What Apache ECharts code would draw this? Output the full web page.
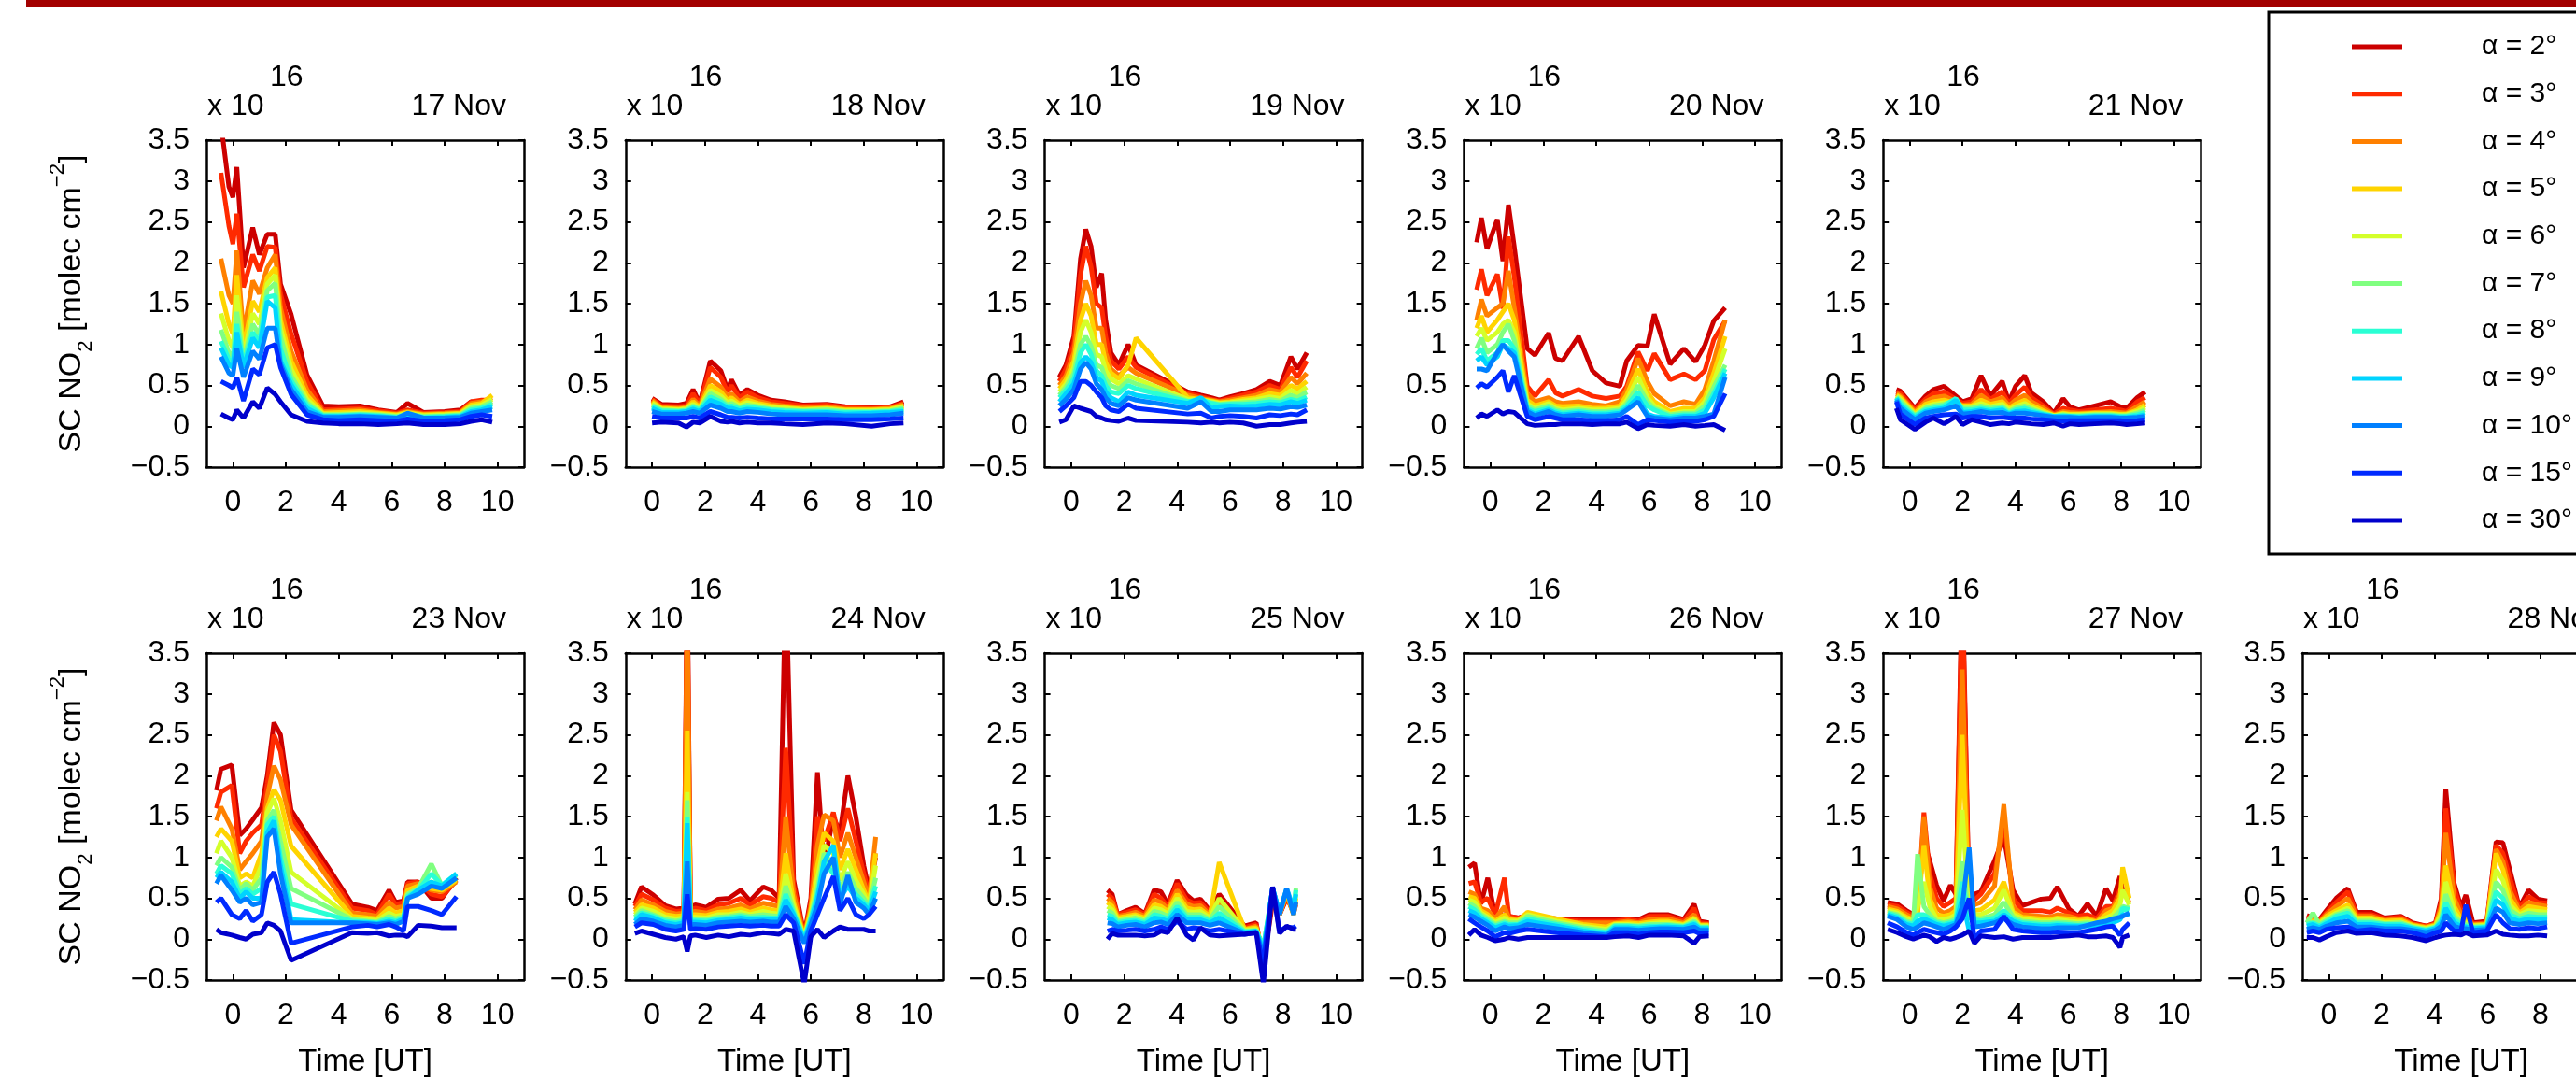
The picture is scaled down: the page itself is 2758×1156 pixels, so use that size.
<!DOCTYPE html>
<html>
<head>
<meta charset="utf-8">
<script src="https://cdn.jsdelivr.net/npm/echarts@6/dist/echarts.min.js"></script>
<style>
html,body{margin:0;padding:0;background:#fff;}
#chart{width:2758px;height:1156px;}
</style>
</head>
<body>
<div id="chart"></div>
<script>
var FONT = '"Liberation Sans", Arial, Helvetica, sans-serif';

var alphas = ['α = 2°','α = 3°','α = 4°','α = 5°','α = 6°','α = 7°','α = 8°','α = 9°','α = 10°','α = 15°','α = 30°'];
var colors = ['#cc0000','#ff2a00','#ff8000','#ffd400','#d4ff2a','#80ff80','#2affd4','#00d4ff','#0080ff','#002aff','#0000cc'];
var xTicks = [0,2,4,6,8,10];

var t17 = [-0.45,-0.15,0,0.15,0.4,0.75,1.0,1.3,1.6,1.8,2.2,2.8,3.4,4.0,4.8,5.5,6.2,6.6,7.2,8.0,8.6,9.0,9.4,9.8];
var v17 = [
 [3.7,2.93,2.8,3.17,1.94,2.43,2.1,2.35,2.35,1.74,1.37,0.63,0.25,0.24,0.25,0.2,0.17,0.28,0.17,0.18,0.2,0.3,0.28,0.3],
 [3.1,2.45,2.23,2.6,1.7,2.1,1.9,2.2,2.19,1.62,1.13,0.55,0.2,0.21,0.22,0.19,0.16,0.2,0.16,0.17,0.18,0.3,0.32,0.32],
 [2.05,1.6,1.5,2.15,1.13,1.78,1.62,1.94,2.1,1.45,0.92,0.45,0.18,0.19,0.2,0.17,0.15,0.18,0.15,0.16,0.17,0.28,0.3,0.35],
 [1.65,1.25,1.13,1.85,0.95,1.53,1.4,1.82,1.94,1.3,0.8,0.38,0.16,0.17,0.18,0.16,0.14,0.17,0.14,0.15,0.16,0.26,0.28,0.38],
 [1.38,1.05,0.96,1.6,0.85,1.38,1.25,1.74,1.85,1.2,0.7,0.33,0.15,0.15,0.16,0.15,0.13,0.16,0.13,0.14,0.15,0.24,0.26,0.33],
 [1.18,0.9,0.85,1.4,0.8,1.25,1.12,1.66,1.75,1.1,0.62,0.29,0.14,0.14,0.15,0.14,0.12,0.15,0.12,0.13,0.14,0.22,0.24,0.3],
 [1.04,0.82,0.78,1.25,0.76,1.15,1.03,1.58,1.6,0.95,0.56,0.26,0.13,0.13,0.14,0.13,0.11,0.14,0.11,0.12,0.13,0.2,0.22,0.27],
 [0.96,0.75,0.72,1.15,0.72,1.08,0.96,1.53,1.45,0.8,0.51,0.22,0.12,0.12,0.13,0.12,0.1,0.13,0.1,0.11,0.12,0.18,0.2,0.24],
 [0.85,0.65,0.62,0.95,0.6,0.92,0.82,1.2,1.2,0.76,0.45,0.18,0.11,0.11,0.12,0.11,0.1,0.16,0.1,0.1,0.11,0.16,0.18,0.2],
 [0.55,0.5,0.47,0.6,0.31,0.7,0.63,0.96,1.0,0.72,0.39,0.14,0.08,0.07,0.08,0.07,0.06,0.09,0.06,0.07,0.08,0.12,0.14,0.12],
 [0.15,0.1,0.08,0.2,0.1,0.3,0.22,0.47,0.39,0.3,0.14,0.06,0.04,0.03,0.03,0.02,0.03,0.04,0.02,0.02,0.03,0.06,0.08,0.05]
];

var t18 = [0,0.35,1.0,1.3,1.55,1.8,2.2,2.6,2.85,3.0,3.3,3.6,4.0,4.5,5.0,5.7,6.6,7.3,8.3,9.0,9.5];
var v18 = [
 [0.34,0.27,0.26,0.28,0.45,0.28,0.8,0.68,0.45,0.57,0.38,0.45,0.38,0.32,0.3,0.26,0.27,0.24,0.23,0.24,0.3],
 [0.33,0.25,0.24,0.25,0.4,0.27,0.72,0.6,0.42,0.5,0.35,0.42,0.35,0.3,0.28,0.25,0.26,0.23,0.22,0.23,0.28],
 [0.32,0.23,0.22,0.23,0.33,0.25,0.58,0.48,0.36,0.4,0.3,0.36,0.31,0.27,0.25,0.23,0.24,0.21,0.21,0.22,0.27],
 [0.3,0.22,0.21,0.22,0.3,0.23,0.5,0.42,0.32,0.35,0.27,0.32,0.28,0.25,0.23,0.21,0.22,0.2,0.2,0.21,0.25],
 [0.28,0.21,0.2,0.21,0.27,0.22,0.44,0.37,0.29,0.31,0.25,0.29,0.26,0.23,0.22,0.2,0.21,0.19,0.19,0.2,0.24],
 [0.26,0.2,0.19,0.2,0.25,0.21,0.4,0.33,0.26,0.28,0.23,0.26,0.24,0.21,0.2,0.19,0.2,0.18,0.18,0.19,0.22],
 [0.24,0.19,0.18,0.19,0.23,0.2,0.36,0.3,0.24,0.25,0.21,0.24,0.22,0.2,0.19,0.18,0.18,0.17,0.17,0.18,0.2],
 [0.22,0.17,0.17,0.18,0.21,0.18,0.32,0.27,0.22,0.22,0.19,0.21,0.2,0.18,0.17,0.16,0.17,0.15,0.16,0.17,0.18],
 [0.18,0.15,0.15,0.16,0.18,0.16,0.26,0.22,0.18,0.18,0.16,0.18,0.17,0.15,0.14,0.14,0.14,0.13,0.13,0.14,0.16],
 [0.12,0.1,0.1,0.1,0.12,0.1,0.18,0.14,0.11,0.11,0.1,0.11,0.1,0.09,0.09,0.09,0.09,0.08,0.08,0.09,0.1],
 [0.04,0.05,0.04,-0.01,0.05,0.04,0.12,0.06,0.05,0.06,0.04,0.05,0.04,0.04,0.03,0.02,0.04,0.03,0.0,0.03,0.04]
];

var t19 = [-0.45,-0.2,0.1,0.35,0.55,0.75,0.95,1.15,1.3,1.5,1.8,2.15,2.45,4.4,4.9,5.3,5.6,6.0,6.5,7.0,7.5,7.9,8.3,8.55,8.9];
var v19 = [
 [0.6,0.75,1.1,2.05,2.41,2.2,1.7,1.87,1.3,0.9,0.75,1.0,0.75,0.42,0.38,0.35,0.32,0.36,0.4,0.45,0.55,0.5,0.85,0.7,0.9],
 [0.55,0.7,1.0,1.85,2.2,1.95,1.5,1.45,1.1,0.8,0.7,0.85,0.72,0.4,0.36,0.33,0.31,0.34,0.38,0.42,0.5,0.45,0.72,0.6,0.8],
 [0.5,0.62,0.9,1.5,1.78,1.6,1.2,1.2,0.9,0.7,0.62,0.72,0.65,0.38,0.34,0.32,0.3,0.32,0.35,0.38,0.45,0.42,0.6,0.52,0.65],
 [0.46,0.57,0.8,1.3,1.5,1.35,1.0,1.0,0.78,0.65,0.58,0.75,1.08,0.35,0.33,0.31,0.29,0.3,0.33,0.35,0.4,0.38,0.5,0.46,0.55],
 [0.42,0.52,0.72,1.15,1.3,1.15,0.88,0.85,0.68,0.58,0.52,0.62,0.58,0.33,0.32,0.3,0.28,0.29,0.31,0.33,0.36,0.34,0.44,0.4,0.48],
 [0.38,0.48,0.65,1.0,1.1,0.98,0.75,0.72,0.58,0.5,0.46,0.56,0.52,0.31,0.31,0.29,0.27,0.28,0.29,0.3,0.33,0.31,0.38,0.35,0.42],
 [0.35,0.44,0.58,0.9,1.0,0.88,0.68,0.62,0.5,0.42,0.4,0.5,0.46,0.3,0.33,0.28,0.26,0.27,0.27,0.28,0.3,0.29,0.33,0.31,0.36],
 [0.3,0.4,0.52,0.78,0.85,0.78,0.6,0.55,0.42,0.35,0.3,0.42,0.38,0.28,0.35,0.22,0.24,0.25,0.24,0.25,0.27,0.26,0.3,0.28,0.32],
 [0.25,0.33,0.45,0.7,0.78,0.7,0.52,0.45,0.35,0.28,0.25,0.35,0.32,0.22,0.3,0.18,0.18,0.2,0.2,0.2,0.22,0.21,0.24,0.23,0.26],
 [0.18,0.25,0.35,0.55,0.55,0.5,0.42,0.35,0.25,0.2,0.18,0.27,0.22,0.15,0.16,0.1,0.12,0.13,0.12,0.1,0.14,0.13,0.15,0.14,0.2],
 [0.05,0.08,0.25,0.22,0.2,0.18,0.12,0.1,0.08,0.07,0.06,0.1,0.07,0.05,0.04,0.05,0.04,0.05,0.04,0.0,0.02,0.02,0.04,0.05,0.06]
];

var t20 = [-0.52,-0.34,-0.13,0.26,0.47,0.68,0.9,1.39,1.68,2.2,2.46,2.72,3.33,3.85,4.37,4.89,5.15,5.58,5.93,6.19,6.79,7.31,7.75,8.1,8.44,8.87];
var v20 = [
 [2.25,2.55,2.17,2.53,2.02,2.71,2.2,0.95,0.87,1.14,0.83,0.8,1.1,0.68,0.53,0.49,0.8,0.99,0.98,1.37,0.76,0.95,0.79,0.99,1.29,1.45],
 [1.67,1.92,1.6,1.86,1.44,2.32,1.83,0.49,0.37,0.57,0.41,0.37,0.45,0.37,0.34,0.37,0.49,0.91,0.68,0.89,0.57,0.64,0.57,0.68,1.06,1.29],
 [1.3,1.55,1.35,1.45,1.5,1.9,1.45,0.4,0.3,0.35,0.3,0.28,0.3,0.27,0.25,0.3,0.45,0.83,0.55,0.4,0.25,0.3,0.27,0.45,0.8,1.3],
 [1.2,1.35,1.15,1.3,1.4,1.5,1.3,0.32,0.25,0.3,0.25,0.24,0.25,0.22,0.22,0.25,0.38,0.7,0.42,0.3,0.18,0.22,0.22,0.35,0.65,1.1],
 [1.1,1.2,1.05,1.15,1.25,1.3,1.15,0.28,0.22,0.28,0.22,0.2,0.22,0.2,0.2,0.22,0.32,0.6,0.35,0.25,0.15,0.18,0.18,0.3,0.55,0.95],
 [0.95,1.08,0.9,1.0,1.15,1.25,1.05,0.25,0.2,0.25,0.2,0.18,0.2,0.18,0.18,0.2,0.28,0.5,0.3,0.22,0.14,0.16,0.16,0.25,0.48,0.75],
 [0.88,0.95,0.8,0.9,1.05,1.05,0.95,0.22,0.18,0.22,0.18,0.16,0.18,0.16,0.16,0.18,0.25,0.42,0.25,0.2,0.12,0.14,0.14,0.2,0.4,0.7],
 [0.8,0.85,0.75,0.85,1.0,0.95,0.9,0.2,0.15,0.2,0.16,0.14,0.16,0.14,0.14,0.16,0.22,0.35,0.15,0.12,0.1,0.12,0.12,0.16,0.35,0.65],
 [0.7,0.7,0.68,0.9,1.0,0.92,0.85,0.18,0.13,0.18,0.14,0.12,0.14,0.12,0.12,0.14,0.2,0.3,0.12,0.1,0.08,0.1,0.1,0.12,0.15,0.6],
 [0.47,0.52,0.48,0.6,0.68,0.42,0.62,0.12,0.08,0.12,0.1,0.08,0.08,0.07,0.07,0.08,0.12,0.02,0.08,0.07,0.05,0.06,0.06,0.08,0.12,0.4],
 [0.1,0.15,0.12,0.2,0.15,0.18,0.17,0.03,0.01,0.02,0.02,0.03,0.03,0.02,0.03,0.03,0.05,-0.03,0.02,0.01,0.0,0.02,0.0,0.01,0.02,-0.05]
];

var t21 = [-0.5,-0.35,0.2,0.6,0.9,1.3,1.75,2.0,2.35,2.7,3.05,3.5,3.75,4.0,4.35,4.6,5.05,5.45,5.8,6.05,6.4,7.0,7.6,7.95,8.2,8.6,8.9];
var v21 = [
 [0.45,0.43,0.22,0.37,0.45,0.49,0.37,0.3,0.34,0.62,0.37,0.55,0.3,0.49,0.62,0.41,0.3,0.16,0.34,0.24,0.2,0.25,0.3,0.24,0.22,0.35,0.42],
 [0.42,0.4,0.2,0.33,0.4,0.42,0.33,0.28,0.3,0.45,0.33,0.42,0.28,0.38,0.48,0.35,0.25,0.15,0.22,0.2,0.18,0.2,0.22,0.2,0.18,0.3,0.35],
 [0.4,0.37,0.18,0.3,0.35,0.37,0.3,0.26,0.27,0.38,0.3,0.35,0.25,0.32,0.38,0.3,0.22,0.14,0.18,0.17,0.16,0.17,0.18,0.17,0.16,0.24,0.3],
 [0.38,0.35,0.16,0.27,0.3,0.32,0.28,0.25,0.25,0.32,0.27,0.3,0.22,0.27,0.32,0.26,0.19,0.13,0.16,0.15,0.15,0.16,0.16,0.15,0.15,0.2,0.26],
 [0.37,0.33,0.14,0.24,0.27,0.29,0.3,0.23,0.24,0.28,0.24,0.27,0.2,0.24,0.28,0.23,0.17,0.13,0.15,0.14,0.14,0.15,0.15,0.14,0.14,0.18,0.23],
 [0.36,0.31,0.13,0.22,0.25,0.27,0.32,0.22,0.22,0.25,0.22,0.24,0.18,0.22,0.25,0.21,0.16,0.12,0.14,0.13,0.13,0.14,0.14,0.13,0.13,0.16,0.2],
 [0.35,0.28,0.12,0.2,0.22,0.25,0.34,0.2,0.2,0.22,0.2,0.22,0.16,0.2,0.22,0.19,0.15,0.12,0.13,0.12,0.12,0.13,0.13,0.12,0.12,0.14,0.17],
 [0.34,0.25,0.1,0.18,0.2,0.22,0.32,0.17,0.18,0.2,0.18,0.2,0.15,0.18,0.19,0.17,0.14,0.12,0.12,0.12,0.11,0.12,0.12,0.11,0.11,0.12,0.14],
 [0.32,0.22,0.08,0.16,0.18,0.2,0.25,0.15,0.16,0.18,0.16,0.17,0.14,0.16,0.16,0.15,0.13,0.11,0.11,0.11,0.1,0.11,0.11,0.1,0.1,0.11,0.12],
 [0.3,0.15,0.02,0.1,0.12,0.14,0.15,0.1,0.12,0.12,0.1,0.11,0.1,0.1,0.1,0.09,0.08,0.07,0.06,0.07,0.07,0.07,0.07,0.07,0.06,0.07,0.08],
 [0.22,0.08,-0.04,0.05,0.1,0.03,0.12,0.02,0.08,0.05,0.02,0.04,0.03,0.05,0.04,0.03,0.02,0.04,0.0,0.03,0.02,0.03,0.04,0.03,0.02,0.03,0.04]
];

var t23 = [-0.62,-0.45,-0.04,0.26,0.5,0.75,1.08,1.3,1.55,1.8,2.2,4.5,5.1,5.45,5.9,6.15,6.45,6.6,7.0,7.5,7.9,8.45];
var v23 = [
 [1.82,2.08,2.13,1.27,1.35,1.46,1.61,2.0,2.65,2.5,1.58,0.43,0.39,0.35,0.6,0.45,0.47,0.7,0.7,0.5,0.5,0.75],
 [1.6,1.8,1.88,1.05,1.2,1.3,1.4,1.9,2.5,2.3,1.48,0.38,0.35,0.3,0.55,0.42,0.45,0.68,0.7,0.55,0.52,0.72],
 [1.45,1.62,1.35,0.85,0.95,1.05,1.2,1.75,2.12,1.95,1.4,0.32,0.3,0.28,0.45,0.38,0.4,0.65,0.68,0.6,0.58,0.7],
 [1.25,1.35,1.2,0.75,0.8,0.75,1.05,1.6,1.83,1.7,1.14,0.28,0.26,0.25,0.38,0.32,0.35,0.6,0.65,0.62,0.6,0.72],
 [1.05,1.2,1.0,0.65,0.7,0.65,0.9,1.55,1.72,1.45,0.82,0.25,0.24,0.23,0.32,0.28,0.3,0.55,0.62,0.7,0.62,0.74],
 [0.9,1.0,0.88,0.6,0.68,0.6,0.75,1.45,1.58,1.2,0.62,0.24,0.22,0.21,0.28,0.25,0.28,0.55,0.62,0.92,0.65,0.78],
 [0.8,0.9,0.8,0.55,0.62,0.55,0.62,1.4,1.5,1.0,0.43,0.22,0.21,0.2,0.25,0.22,0.26,0.52,0.6,0.8,0.66,0.8],
 [0.75,0.82,0.7,0.5,0.58,0.5,0.5,1.3,1.45,0.9,0.24,0.2,0.2,0.19,0.22,0.2,0.25,0.5,0.6,0.7,0.65,0.8],
 [0.68,0.78,0.6,0.45,0.5,0.42,0.45,1.25,1.35,0.8,0.2,0.2,0.19,0.18,0.2,0.18,0.22,0.5,0.55,0.65,0.62,0.75],
 [0.45,0.5,0.3,0.25,0.35,0.22,0.3,0.7,0.82,0.55,-0.05,0.15,0.17,0.15,0.18,0.15,0.1,0.4,0.4,0.35,0.3,0.52],
 [0.12,0.08,0.05,0.02,0.0,0.06,0.08,0.2,0.17,0.1,-0.26,0.08,0.07,0.08,0.04,0.05,0.05,0.03,0.17,0.16,0.14,0.14]
];

var t24 = [-0.65,-0.4,0.05,0.5,0.9,1.2,1.33,1.45,1.63,2.05,2.5,2.9,3.35,3.7,4.2,4.5,4.8,5.05,5.35,5.75,6.0,6.25,6.5,6.85,7.1,7.4,7.7,8.0,8.2,8.45];
var v24 = [
 [0.43,0.64,0.54,0.41,0.37,0.38,4.5,0.4,0.42,0.39,0.49,0.5,0.6,0.47,0.64,0.6,0.5,4.5,0.73,0.05,0.5,2.04,0.9,1.5,1.3,2.0,1.5,0.9,0.6,1.0],
 [0.4,0.55,0.48,0.38,0.34,0.35,4.3,0.36,0.38,0.35,0.42,0.44,0.5,0.42,0.52,0.5,0.45,2.34,0.65,0.04,0.45,1.5,1.2,1.55,1.2,1.6,1.2,0.8,0.55,1.05],
 [0.36,0.48,0.42,0.34,0.31,0.32,4.0,0.33,0.34,0.32,0.37,0.38,0.42,0.37,0.44,0.42,0.4,1.5,0.55,0.03,0.4,1.15,1.52,1.45,1.0,1.3,1.0,0.7,0.5,1.25],
 [0.33,0.42,0.38,0.3,0.28,0.29,2.55,0.3,0.3,0.29,0.33,0.34,0.37,0.33,0.38,0.36,0.35,1.05,0.45,0.02,0.35,0.9,1.3,1.2,0.85,1.1,0.85,0.6,0.45,1.05],
 [0.3,0.38,0.34,0.27,0.25,0.26,1.8,0.27,0.27,0.26,0.3,0.3,0.33,0.3,0.34,0.32,0.31,0.8,0.4,0.02,0.3,0.75,1.15,1.05,0.72,0.95,0.72,0.55,0.42,0.9],
 [0.27,0.35,0.3,0.24,0.22,0.24,1.7,0.25,0.25,0.24,0.27,0.28,0.3,0.28,0.3,0.29,0.28,0.65,0.35,0.01,0.27,0.62,1.05,0.9,0.62,0.82,0.62,0.5,0.4,0.75],
 [0.25,0.32,0.28,0.22,0.2,0.22,1.5,0.23,0.23,0.22,0.25,0.26,0.28,0.26,0.27,0.26,0.26,0.55,0.32,0.0,0.25,0.55,0.95,0.8,0.55,0.72,0.55,0.45,0.38,0.65],
 [0.22,0.3,0.26,0.2,0.18,0.2,1.42,0.21,0.21,0.2,0.23,0.24,0.26,0.24,0.25,0.24,0.24,0.48,0.3,-0.02,0.22,0.5,0.95,1.15,0.5,0.65,0.5,0.42,0.35,0.58],
 [0.18,0.25,0.22,0.17,0.15,0.17,0.95,0.18,0.18,0.17,0.2,0.21,0.22,0.21,0.22,0.21,0.21,0.4,0.25,-0.05,0.18,0.42,0.8,1.0,0.42,0.78,0.45,0.38,0.3,0.5],
 [0.15,0.2,0.18,0.12,0.1,0.12,0.55,0.12,0.13,0.12,0.15,0.16,0.17,0.16,0.17,0.16,0.16,0.3,0.2,-0.3,0.1,0.3,0.5,0.77,0.35,0.5,0.3,0.25,0.3,0.4],
 [0.07,0.1,0.06,0.02,0.0,0.03,-0.15,0.04,0.05,0.02,0.05,0.03,0.06,0.05,0.08,0.07,0.06,0.12,0.1,-0.55,0.03,0.12,0.02,0.1,0.15,0.12,0.12,0.12,0.1,0.1]
];

var t25 = [1.37,1.55,1.75,2.1,2.43,2.78,3.13,3.39,3.65,4.0,4.36,4.62,4.88,5.24,5.59,6.55,6.99,7.26,7.61,7.87,8.14,8.4,8.49];
var v25 = [
 [0.6,0.55,0.3,0.35,0.39,0.31,0.6,0.58,0.43,0.72,0.54,0.47,0.49,0.35,0.55,0.16,0.2,-0.3,0.45,0.3,0.5,0.35,0.45],
 [0.55,0.5,0.3,0.33,0.36,0.3,0.55,0.5,0.4,0.68,0.48,0.44,0.45,0.33,0.48,0.14,0.18,-0.25,0.5,0.3,0.52,0.32,0.42],
 [0.5,0.45,0.28,0.3,0.33,0.28,0.48,0.45,0.37,0.6,0.43,0.4,0.41,0.3,0.42,0.12,0.16,-0.2,0.55,0.3,0.55,0.3,0.45],
 [0.45,0.4,0.26,0.28,0.3,0.26,0.42,0.4,0.34,0.55,0.38,0.36,0.37,0.28,0.94,0.12,0.14,-0.15,0.58,0.3,0.58,0.3,0.5],
 [0.4,0.36,0.24,0.26,0.28,0.24,0.38,0.36,0.31,0.5,0.34,0.33,0.34,0.26,0.5,0.11,0.12,-0.12,0.6,0.32,0.6,0.32,0.55],
 [0.35,0.32,0.22,0.24,0.26,0.22,0.34,0.32,0.28,0.45,0.3,0.3,0.3,0.24,0.4,0.1,0.11,-0.1,0.6,0.33,0.6,0.35,0.62],
 [0.3,0.28,0.2,0.22,0.23,0.2,0.3,0.28,0.25,0.4,0.27,0.27,0.27,0.22,0.32,0.09,0.1,-0.1,0.62,0.33,0.6,0.36,0.6],
 [0.26,0.24,0.18,0.2,0.21,0.18,0.26,0.25,0.22,0.36,0.24,0.24,0.24,0.2,0.26,0.08,0.1,-0.15,0.62,0.32,0.62,0.38,0.55],
 [0.2,0.19,0.15,0.17,0.18,0.15,0.2,0.21,0.18,0.3,0.2,0.2,0.2,0.17,0.2,0.07,0.09,-0.2,0.63,0.3,0.62,0.3,0.45],
 [0.1,0.12,0.1,0.11,0.12,0.1,0.12,0.15,0.12,0.22,0.12,0.14,0.13,0.1,0.12,0.06,0.08,-0.3,0.64,0.1,0.15,0.14,0.16],
 [0.0,0.07,0.05,0.05,0.05,0.04,0.05,0.1,0.08,0.26,0.05,-0.01,0.14,0.05,0.04,0.06,0.08,-0.55,0.64,0.07,0.16,0.12,0.12]
];

var t26 = [-0.82,-0.6,-0.36,-0.1,0.18,0.53,0.7,1.05,1.4,2.5,3.5,4.4,4.7,5.2,5.6,6.0,6.4,6.7,7.3,7.7,7.9,8.25];
var v26 = [
 [0.88,0.93,0.43,0.75,0.28,0.3,0.28,0.26,0.3,0.25,0.25,0.24,0.24,0.25,0.24,0.3,0.3,0.3,0.24,0.43,0.22,0.2],
 [0.68,0.7,0.45,0.5,0.3,0.75,0.28,0.26,0.28,0.24,0.22,0.22,0.22,0.24,0.22,0.28,0.28,0.28,0.22,0.38,0.2,0.19],
 [0.58,0.55,0.38,0.35,0.25,0.4,0.26,0.24,0.3,0.22,0.2,0.2,0.2,0.22,0.2,0.24,0.25,0.25,0.2,0.3,0.18,0.18],
 [0.52,0.5,0.35,0.3,0.22,0.3,0.24,0.23,0.33,0.25,0.18,0.15,0.19,0.2,0.19,0.21,0.22,0.22,0.18,0.26,0.17,0.17],
 [0.48,0.45,0.32,0.27,0.2,0.26,0.22,0.22,0.3,0.22,0.16,0.12,0.18,0.18,0.17,0.19,0.2,0.2,0.17,0.24,0.16,0.16],
 [0.44,0.4,0.3,0.25,0.18,0.22,0.2,0.2,0.28,0.2,0.14,0.1,0.17,0.17,0.16,0.18,0.18,0.18,0.16,0.22,0.15,0.15],
 [0.4,0.36,0.28,0.22,0.16,0.2,0.18,0.18,0.25,0.18,0.12,0.08,0.16,0.16,0.15,0.16,0.16,0.17,0.15,0.2,0.14,0.14],
 [0.35,0.32,0.25,0.2,0.14,0.18,0.16,0.17,0.22,0.16,0.1,0.06,0.14,0.14,0.13,0.14,0.15,0.15,0.14,0.18,0.13,0.13],
 [0.3,0.27,0.22,0.17,0.1,0.15,0.13,0.14,0.18,0.13,0.08,0.05,0.12,0.12,0.11,0.12,0.13,0.13,0.12,0.15,0.11,0.11],
 [0.25,0.2,0.15,0.1,0.03,0.08,0.07,0.1,0.12,0.08,0.05,0.03,0.08,0.08,0.06,0.08,0.09,0.09,0.08,0.1,0.07,0.07],
 [0.05,0.12,0.05,0.02,-0.02,0.0,0.02,0.0,0.02,0.02,0.02,0.02,0.03,0.04,0.02,0.05,0.05,0.05,0.04,-0.05,0.03,0.04]
];

var t27 = [-0.83,-0.47,-0.12,0.14,0.3,0.54,0.76,1.02,1.28,1.54,1.75,1.99,2.25,2.45,2.69,3.21,3.56,3.91,4.26,4.97,5.32,5.58,6.02,6.37,6.72,7.07,7.42,7.68,7.95,8.05,8.3];
var v27 = [
 [0.45,0.43,0.35,0.3,0.35,1.2,0.96,0.66,0.47,0.66,0.55,4.5,0.43,0.55,0.58,0.96,1.25,0.6,0.41,0.49,0.5,0.64,0.37,0.28,0.43,0.28,0.62,0.47,0.77,0.6,0.5],
 [0.42,0.4,0.33,0.28,0.35,1.55,0.8,0.5,0.4,0.45,0.5,4.3,0.38,0.48,0.55,0.8,1.45,0.5,0.35,0.35,0.33,0.38,0.32,0.28,0.3,0.25,0.4,0.4,0.6,0.55,0.52],
 [0.4,0.37,0.3,0.26,0.33,1.5,0.65,0.38,0.32,0.35,0.4,3.3,0.35,0.42,0.45,0.65,1.65,0.4,0.3,0.28,0.27,0.3,0.28,0.25,0.26,0.22,0.35,0.38,0.55,0.6,0.45],
 [0.37,0.34,0.27,0.24,0.3,1.15,0.5,0.3,0.28,0.3,0.35,2.5,0.32,0.35,0.36,0.48,0.7,0.33,0.27,0.25,0.24,0.26,0.25,0.23,0.24,0.21,0.3,0.35,0.5,0.88,0.5],
 [0.35,0.32,0.25,0.22,0.4,0.7,0.4,0.25,0.24,0.26,0.3,1.58,0.3,0.3,0.3,0.38,0.6,0.3,0.25,0.22,0.22,0.24,0.22,0.21,0.22,0.2,0.26,0.3,0.42,0.6,0.42],
 [0.33,0.3,0.22,0.2,1.04,0.4,0.3,0.22,0.2,0.22,0.25,0.95,0.28,0.26,0.25,0.3,0.45,0.27,0.22,0.2,0.2,0.21,0.2,0.19,0.2,0.18,0.22,0.26,0.35,0.4,0.38],
 [0.32,0.28,0.2,0.18,0.3,0.3,0.25,0.2,0.18,0.2,0.22,0.7,0.26,0.24,0.22,0.26,0.35,0.24,0.2,0.18,0.18,0.19,0.18,0.17,0.18,0.17,0.2,0.22,0.28,0.38,0.36],
 [0.3,0.26,0.18,0.16,0.22,0.25,0.22,0.18,0.16,0.18,0.2,0.5,0.1,0.2,0.2,0.22,0.3,0.22,0.18,0.16,0.16,0.17,0.16,0.16,0.16,0.15,0.17,0.2,0.24,0.3,0.3],
 [0.28,0.24,0.15,0.12,0.15,0.2,0.18,0.15,0.12,0.15,0.18,0.4,1.12,0.15,0.16,0.2,0.25,0.18,0.15,0.13,0.13,0.14,0.14,0.14,0.17,0.2,0.22,0.25,0.27,0.28,0.32],
 [0.2,0.15,0.08,0.05,0.08,0.12,0.1,0.08,0.06,0.1,0.15,0.25,0.5,0.0,0.1,0.12,0.28,0.12,0.1,0.08,0.08,0.09,0.08,0.08,0.1,0.12,0.15,0.16,0.05,0.12,0.2],
 [0.12,0.08,0.03,0.0,0.02,0.05,0.03,-0.03,0.02,0.0,0.02,0.05,0.1,-0.05,0.04,0.02,0.03,0.0,0.02,0.02,0.02,0.03,0.04,0.05,0.03,0.03,0.04,0.02,-0.1,0.02,0.05]
];

var t28 = [-0.83,-0.6,-0.35,-0.09,0.28,0.72,1.05,1.6,2.1,2.72,3.16,3.68,4.03,4.25,4.42,4.74,5.0,5.18,5.45,5.97,6.32,6.58,6.84,7.2,7.55,7.9,8.25];
var v28 = [
 [0.29,0.26,0.24,0.35,0.5,0.62,0.33,0.33,0.26,0.28,0.2,0.16,0.2,0.5,1.84,0.68,0.39,0.54,0.2,0.22,1.19,1.18,0.85,0.39,0.6,0.49,0.47],
 [0.27,0.25,0.23,0.32,0.45,0.58,0.3,0.3,0.25,0.27,0.19,0.16,0.19,0.45,1.6,0.62,0.35,0.3,0.19,0.2,1.15,1.05,0.75,0.38,0.52,0.45,0.44],
 [0.25,0.23,0.21,0.3,0.4,0.5,0.28,0.28,0.23,0.25,0.18,0.15,0.18,0.4,1.3,0.5,0.3,0.25,0.18,0.19,1.1,0.95,0.6,0.35,0.45,0.42,0.4],
 [0.23,0.22,0.2,0.28,0.35,0.42,0.26,0.26,0.22,0.23,0.17,0.14,0.17,0.35,0.9,0.4,0.25,0.22,0.17,0.18,1.05,0.85,0.5,0.32,0.4,0.38,0.36],
 [0.21,0.2,0.19,0.25,0.32,0.38,0.24,0.24,0.2,0.21,0.16,0.13,0.16,0.3,0.7,0.33,0.22,0.2,0.16,0.17,0.85,0.72,0.42,0.3,0.35,0.34,0.33],
 [0.2,0.32,0.18,0.23,0.3,0.35,0.22,0.22,0.19,0.2,0.15,0.12,0.15,0.25,0.55,0.28,0.2,0.18,0.15,0.16,0.7,0.6,0.36,0.28,0.32,0.3,0.3],
 [0.18,0.2,0.16,0.21,0.28,0.32,0.2,0.2,0.18,0.18,0.14,0.11,0.14,0.22,0.45,0.24,0.18,0.16,0.14,0.15,0.58,0.5,0.3,0.25,0.28,0.27,0.27],
 [0.16,0.18,0.14,0.19,0.25,0.28,0.18,0.18,0.16,0.16,0.13,0.1,0.13,0.2,0.38,0.2,0.16,0.15,0.13,0.14,0.48,0.42,0.26,0.22,0.25,0.24,0.24],
 [0.12,0.14,0.12,0.16,0.2,0.22,0.15,0.15,0.13,0.13,0.11,0.08,0.11,0.16,0.3,0.16,0.13,0.13,0.11,0.12,0.38,0.33,0.2,0.18,0.2,0.19,0.2],
 [0.08,0.1,0.08,0.12,0.14,0.15,0.1,0.12,0.1,0.1,0.08,0.03,0.08,0.1,0.2,0.1,0.1,0.42,0.08,0.1,0.3,0.2,0.13,0.12,0.14,0.13,0.15],
 [0.02,0.02,-0.01,0.03,0.08,0.1,0.07,0.08,0.05,0.04,0.02,-0.02,0.02,0.04,0.05,0.06,0.05,0.08,0.04,0.05,0.1,0.06,0.05,0.04,0.04,0.05,0.04]
];

var dates = ['17 Nov','18 Nov','19 Nov','20 Nov','21 Nov','23 Nov','24 Nov','25 Nov','26 Nov','27 Nov','28 Nov'];
var times = [t17,t18,t19,t20,t21,t23,t24,t25,t26,t27,t28];
var values = [v17,v18,v19,v20,v21,v23,v24,v25,v26,v27,v28];
var rows = [0,0,0,0,0,1,1,1,1,1,1];
var cols = [0,1,2,3,4,0,1,2,3,4,5];

// panel layout in px
var L0 = 221, PITCH = 448.8, PW = 340, PH = 350;
var TOPS = [150, 699];

function yFmt(v){ return (v < 0 ? '\u2212' : '') + Math.abs(v); }

function buildOption(){
  var grids = [], xAxes = [], yAxes = [], series = [], graphics = [];
  graphics.push({type:'rect', shape:{x:28, y:0, width:2730, height:7}, style:{fill:'#a30000'}, silent:true});
  graphics.push({type:'rect', shape:{x:2429, y:13, width:400, height:580}, style:{fill:'#fff', stroke:'#000', lineWidth:3}, silent:true});

  for (var i = 0; i < dates.length; i++) {
    var left = L0 + PITCH * cols[i];
    var top = TOPS[rows[i]];
    grids.push({left:left, top:top, width:PW, height:PH, containLabel:false, outerBoundsMode:'none'});

    for (var s = 0; s < 2; s++) {
      var xa = {type:'value', gridIndex:i, position: s === 0 ? 'bottom' : 'top', min:-1, max:11,
        axisLine:{show:true, onZero:false, lineStyle:{color:'#000', width:2.5}},
        axisTick:{show:true, inside:true, length:6, lineStyle:{color:'#000', width:2}, customValues:xTicks.slice()},
        splitLine:{show:false},
        axisLabel:{show: s === 0, color:'#000', fontSize:32, fontFamily:FONT, margin:22, customValues:xTicks.slice()}};
      if (s === 0 && rows[i] === 1) {
        xa.name = 'Time [UT]'; xa.nameLocation = 'middle'; xa.nameGap = 71;
        xa.nameTextStyle = {color:'#000', fontSize:33, fontFamily:FONT};
      }
      xAxes.push(xa);

      yAxes.push({type:'value', gridIndex:i, position: s === 0 ? 'left' : 'right', min:-0.5, max:3.5, interval:0.5,
        axisLine:{show:true, onZero:false, lineStyle:{color:'#000', width:2.5}},
        axisTick:{show:true, inside:true, length:6, lineStyle:{color:'#000', width:2}},
        splitLine:{show:false},
        axisLabel:{show: s === 0, color:'#000', fontSize:32, fontFamily:FONT, margin:18, formatter:yFmt}});
    }

    var t = times[i];
    for (var k = 0; k < values[i].length; k++) {
      var ys = values[i][k];
      var pts = [];
      for (var j = 0; j < t.length; j++) pts.push([t[j], ys[j]]);
      series.push({type:'line', name:alphas[k], xAxisIndex:2*i, yAxisIndex:2*i, data:pts,
        symbol:'none', showSymbol:false, clip:true,
        lineStyle:{width:5, color:colors[k]}, itemStyle:{color:colors[k]}});
    }

    // header over each panel: "x 10^16" and the date
    graphics.push({type:'text', x:left + 1, y:top - 36, silent:true,
      style:{text:'x 10', fill:'#000', fontSize:32, fontFamily:FONT, align:'left', verticalAlign:'middle'}});
    graphics.push({type:'text', x:left + 68, y:top - 67, silent:true,
      style:{text:'16', fill:'#000', fontSize:32, fontFamily:FONT, align:'left', verticalAlign:'middle'}});
    graphics.push({type:'text', x:left + 321, y:top - 36, silent:true,
      style:{text:dates[i], fill:'#000', fontSize:32, fontFamily:FONT, align:'right', verticalAlign:'middle'}});

    if (cols[i] === 0) {
      graphics.push({type:'text', x:77, y:top + PH / 2, rotation:Math.PI / 2, silent:true,
        style:{text:'{a|SC NO}{s|2}{a| [molec cm}{p|\u22122}{a|]}', align:'center', verticalAlign:'middle',
          rich:{
            a:{fontSize:34, fontFamily:FONT, fill:'#000', lineHeight:52, verticalAlign:'middle'},
            s:{fontSize:22, fontFamily:FONT, fill:'#000', lineHeight:52, verticalAlign:'bottom'},
            p:{fontSize:22, fontFamily:FONT, fill:'#000', lineHeight:52, verticalAlign:'top'}
          }}});
    }
  }

  return {
    backgroundColor:'#fff',
    animation:false,
    grid:grids, xAxis:xAxes, yAxis:yAxes, series:series,
    legend:{orient:'vertical', left:2518, top:35, padding:0, icon:'rect', itemWidth:54, itemHeight:5, itemGap:20.7,
      selectedMode:false, data:alphas.slice(),
      textStyle:{color:'#000', fontSize:30, fontFamily:FONT, lineHeight:30, padding:[0,0,0,80]}},
    graphic:{elements:graphics}
  };
}

var chart = echarts.init(document.getElementById('chart'));
chart.setOption(buildOption());

window.onresize = function(){ chart.resize(); };
</script>
</body>
</html>
